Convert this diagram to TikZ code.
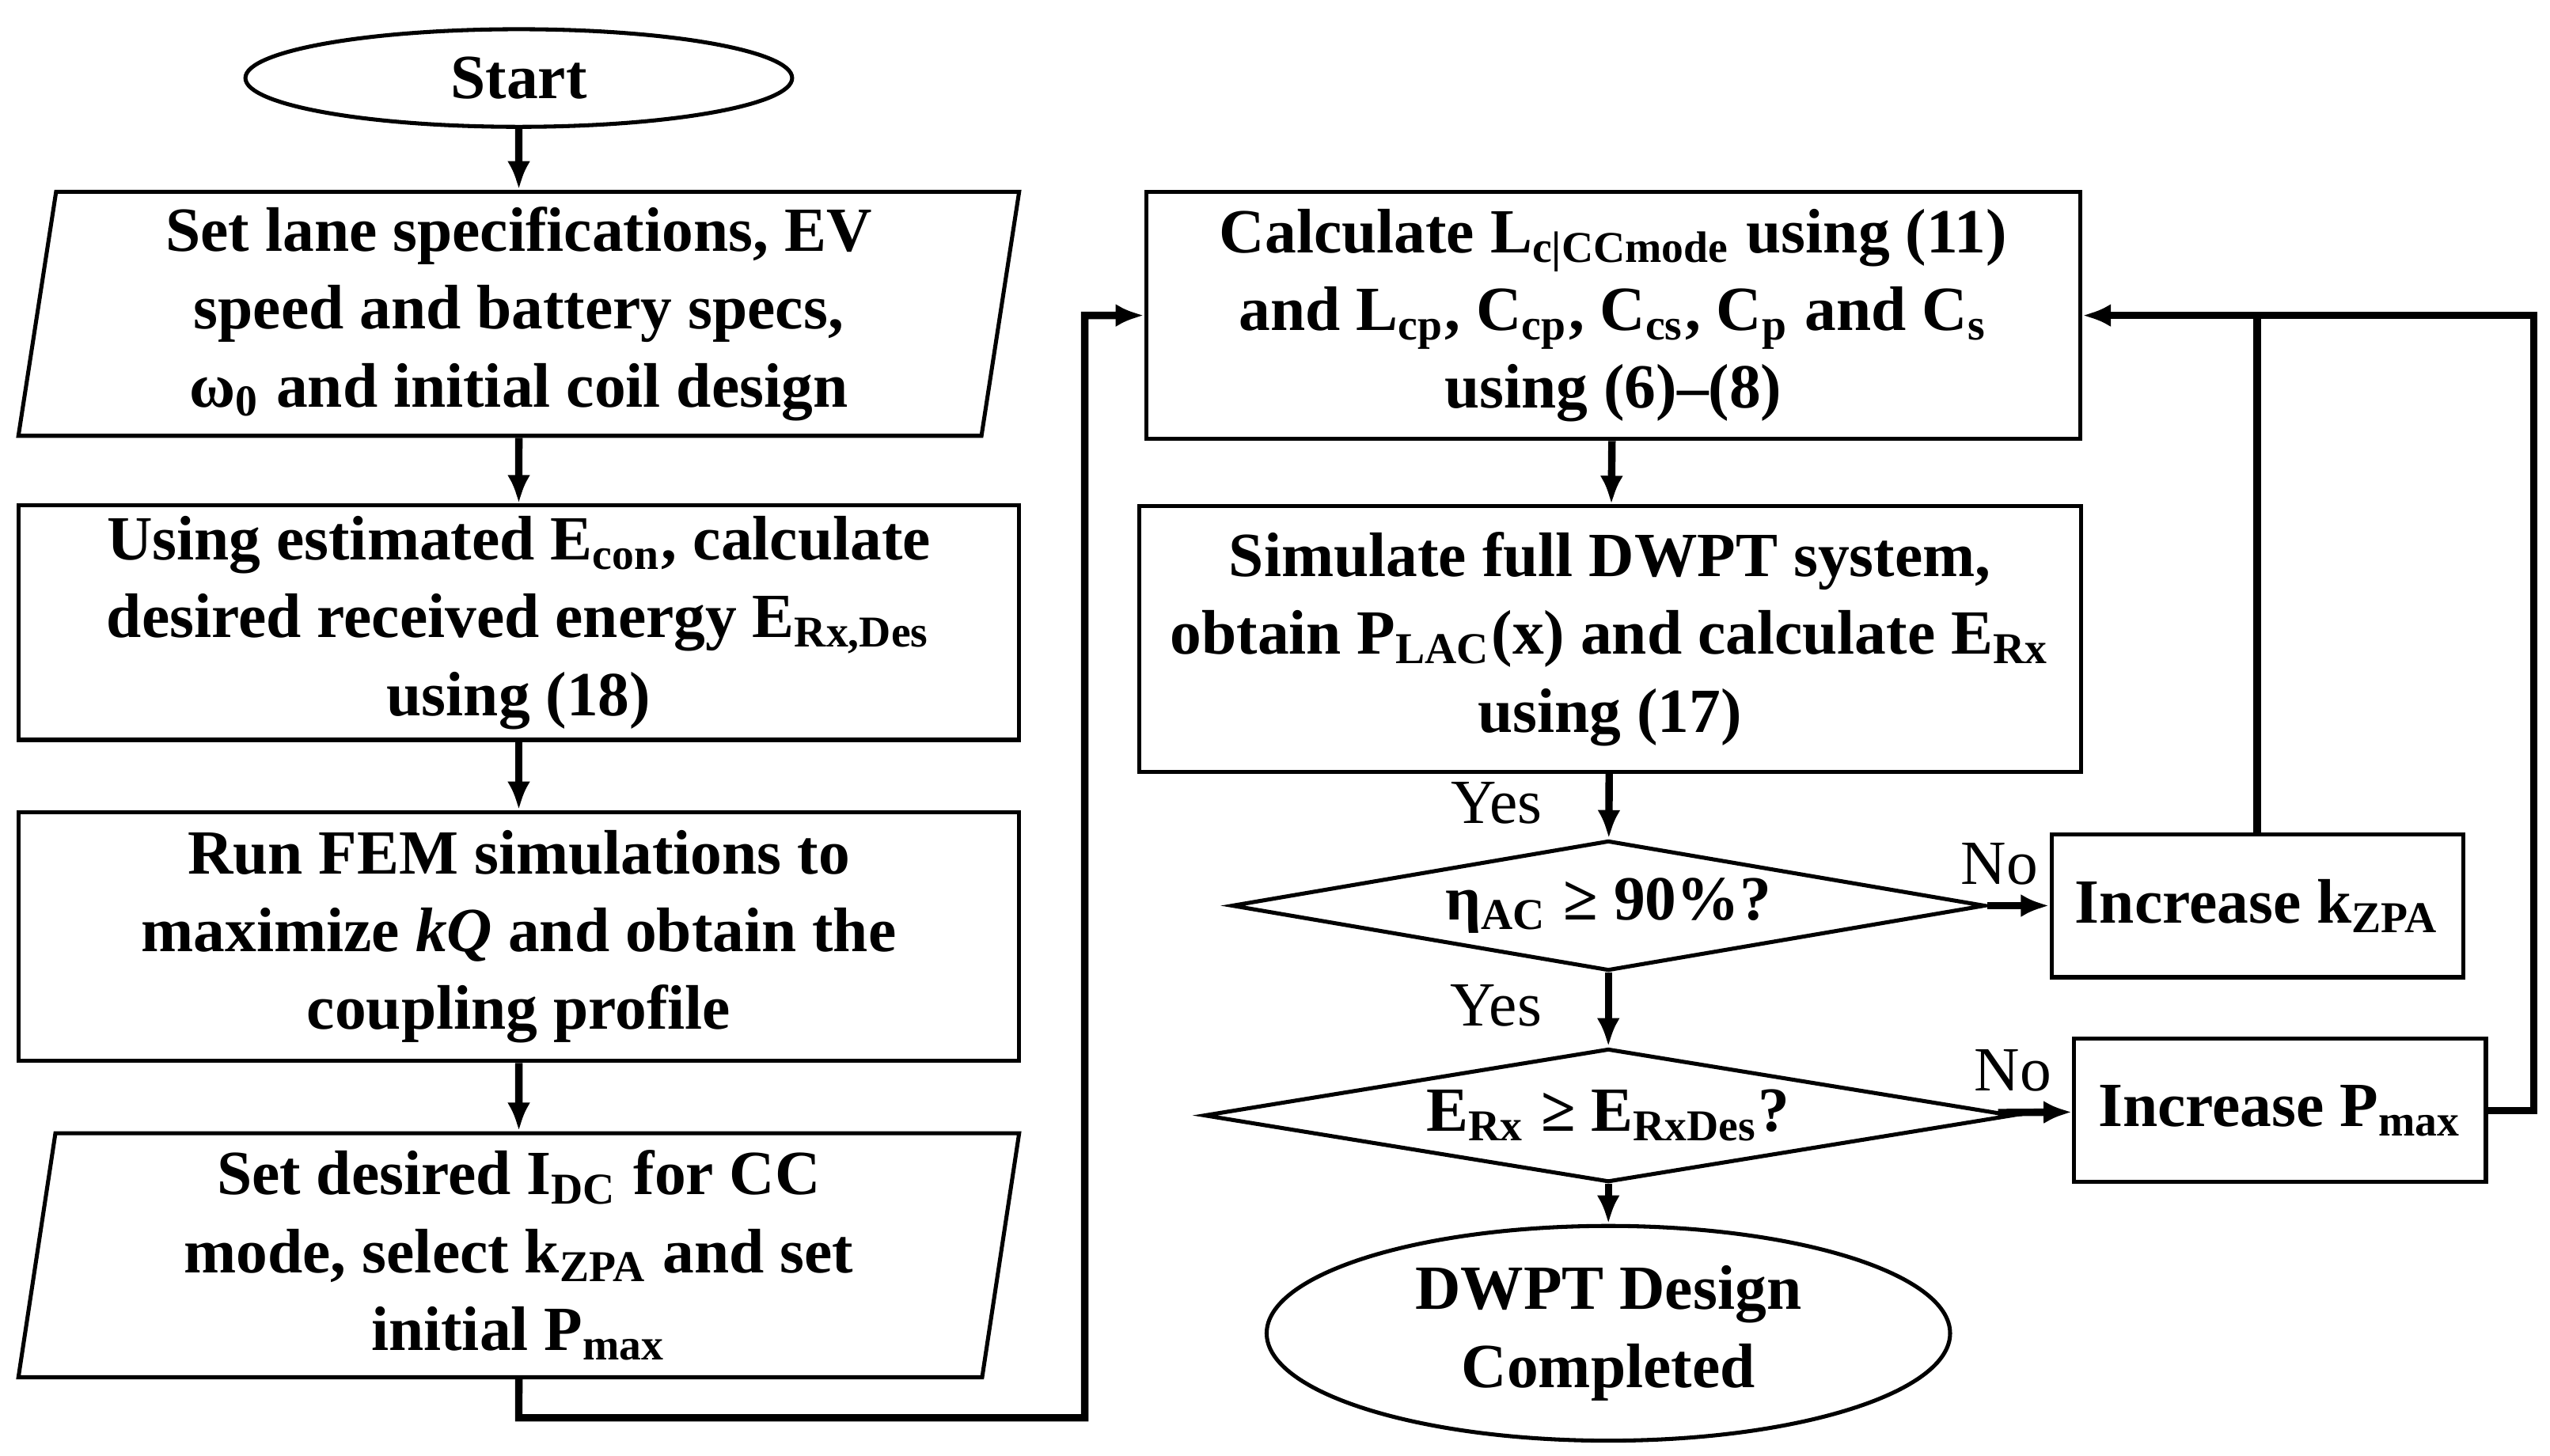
\documentclass[tikz,border=0pt]{standalone}
\usepackage{fontspec}
\setmainfont{Liberation Serif}
\usetikzlibrary{shapes.geometric,arrows.meta}
\newcommand{\sub}[1]{\textsubscript{#1}}
\begin{document}
\begin{tikzpicture}
            \tikzset{x=0.01cm, y=-0.01cm}
            \tikzset{every node/.style={font=\fontsize{11}{13.6}\selectfont\bfseries, align=center, inner sep=1pt}}
            \tikzstyle{proc}=[rectangle, draw, line width=0.7pt]
            \tikzstyle{io}=[trapezium, draw, line width=0.7pt, trapezium left angle=80.5, trapezium right angle=99.5, trapezium stretches body, minimum width=6.15cm, minimum height=1.5cm]
            \tikzstyle{term}=[ellipse, draw, line width=0.7pt]
            \tikzstyle{dec}=[diamond, draw, line width=0.7pt, aspect=5.8, inner sep=0pt]
            \tikzstyle{flow}=[line width=1.3pt, -{Latex[length=5pt,width=4pt]}]
            \tikzstyle{lbl}=[font=\fontsize{11}{13}\selectfont]
            \useasboundingbox (0,0) rectangle (1568,895);

            \node[term, minimum width=3.36cm, minimum height=0.6cm]   (start) at (319,48)  {Start};
            \node[io]                                               (spec)  at (319,193) {Set lane specifications, EV\\speed and battery specs,\\ω\sub{0} and initial coil design};
            \node[proc, minimum width=6.15cm, minimum height=1.44cm] (energy) at (319,383) {Using estimated E\sub{con}, calculate\\desired received energy E\sub{Rx,Des}\\using (18)};
            \node[proc, minimum width=6.15cm, minimum height=1.53cm] (fem)   at (319,576) {Run FEM simulations to\\maximize \textit{kQ} and obtain the\\coupling profile};
            \node[io]                                               (idc)   at (319,772) {Set desired I\sub{DC} for CC\\mode, select k\sub{ZPA} and set\\initial P\sub{max}};

            \node[proc, minimum width=5.74cm, minimum height=1.52cm] (calc)  at (992,194) {Calculate L\sub{c|CCmode} using (11)\\and L\sub{cp}, C\sub{cp}, C\sub{cs}, C\sub{p} and C\sub{s}\\using (6)--(8)};
            \node[proc, minimum width=5.79cm, minimum height=1.63cm] (sim)   at (990,393) {Simulate full DWPT system,\\obtain P\sub{LAC}(x) and calculate E\sub{Rx}\\using (17)};
            \node[dec, minimum width=4.63cm, minimum height=0.8cm]   (eff)   at (989,557) {η\sub{AC} ≥ 90\%?};
            \node[dec, minimum width=4.97cm, minimum height=0.82cm]  (erx)   at (989,686) {E\sub{Rx} ≥ E\sub{RxDes}?};
            \node[proc, minimum width=2.53cm, minimum height=0.88cm] (inck)  at (1388,557) {Increase k\sub{ZPA}};
            \node[proc, minimum width=2.53cm, minimum height=0.88cm] (incp)  at (1402,683) {Increase P\sub{max}};
            \node[term, minimum width=4.2cm, minimum height=1.32cm]  (done)  at (989,820) {DWPT Design\\Completed};

            \coordinate (c1) at (319,872);
            \coordinate (c2) at (667,872);
            \coordinate (c3) at (667,194);
            \coordinate (c4) at (1388,194);
            \coordinate (c5) at (1558,683);
            \coordinate (c6) at (1558,194);

            \draw[flow] (start) -- (spec);
            \draw[flow] (spec) -- (energy);
            \draw[flow] (energy) -- (fem);
            \draw[flow] (fem) -- (idc);
            \draw[flow] (idc.south) -- (c1) -- (c2) -- (c3) -- (calc.west);
            \draw[flow] (calc) -- (sim);
            \draw[flow] (sim) -- node[lbl, left=10pt, pos=0.45] {Yes} (eff);
            \draw[flow] (eff) -- node[lbl, left=10pt, pos=0.45] {Yes} (erx);
            \draw[flow] (erx) -- (done);
            \draw[flow] (eff) -- node[lbl, above=2pt, pos=0.2] {No} (inck);
            \draw[flow] (erx) -- node[lbl, above=2pt, pos=0.2] {No} (incp);
            \draw[line width=1.3pt] (inck) -- (c4);
            \draw[flow] (incp) -- (c5) -- (c6) -- (calc.east);
        \end{tikzpicture}
\end{document}
